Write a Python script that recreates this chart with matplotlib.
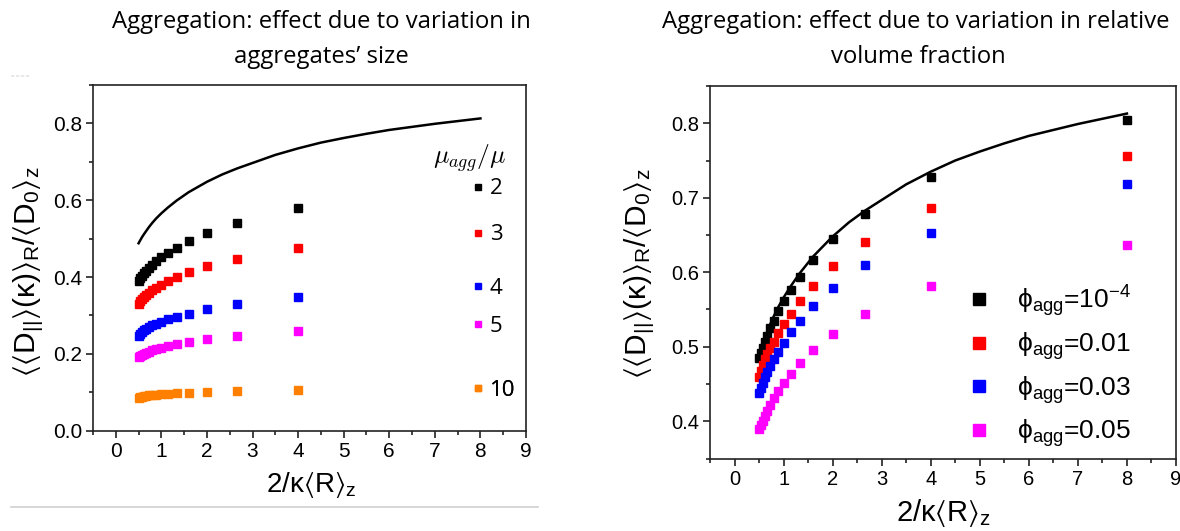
import matplotlib
matplotlib.use("Agg")
import matplotlib.pyplot as plt
from matplotlib.lines import Line2D
from matplotlib.ticker import MultipleLocator

plt.rcParams['font.family'] = ['Liberation Sans', 'DejaVu Sans']
plt.rcParams['mathtext.fontset'] = 'custom'
plt.rcParams['mathtext.rm'] = 'Liberation Sans'
plt.rcParams['mathtext.it'] = 'Liberation Sans'
plt.rcParams['mathtext.bf'] = 'Liberation Sans:bold'
plt.rcParams['mathtext.fallback'] = 'stixsans'

# ---------------- data ----------------
x_vals = [8.0, 4.0, 2.667, 2.0, 1.6, 1.333, 1.143, 1.0, 0.889, 0.8, 0.727, 0.667, 0.615, 0.571, 0.533, 0.5]

# theory curve
curve_x = [0.5, 0.533, 0.571, 0.615, 0.667, 0.727, 0.8, 0.889, 1.0, 1.143, 1.333, 1.6, 2.0, 2.333,
           2.667, 3.0, 3.5, 4.0, 4.5, 5.0, 5.5, 6.0, 6.5, 7.0, 7.5, 8.0]
curve_y = [0.488, 0.495, 0.503, 0.511, 0.520, 0.530, 0.541, 0.553, 0.566, 0.581, 0.599, 0.621, 0.648, 0.667,
           0.683, 0.697, 0.718, 0.735, 0.750, 0.762, 0.773, 0.783, 0.791, 0.799, 0.806, 0.813]

# left panel: aggregate size (mu_agg/mu); no point at x=8
left_x = x_vals[1:]
left_labels = ['2', '3', '4', '5', '10']
left_colors = ['#000000', '#ff0000', '#0000ff', '#ff00ff', '#ff8000']
mu2 = [0.580, 0.542, 0.515, 0.494, 0.475, 0.462, 0.451, 0.441, 0.432, 0.423, 0.416, 0.410, 0.404, 0.398, 0.390]
mu3 = [0.475, 0.448, 0.429, 0.413, 0.399, 0.389, 0.380, 0.372, 0.365, 0.358, 0.352, 0.347, 0.342, 0.337, 0.330]
mu4 = [0.349, 0.331, 0.317, 0.305, 0.297, 0.290, 0.284, 0.279, 0.274, 0.270, 0.265, 0.261, 0.257, 0.253, 0.247]
mu5 = [0.259, 0.247, 0.239, 0.232, 0.225, 0.220, 0.216, 0.212, 0.209, 0.206, 0.203, 0.200, 0.197, 0.195, 0.192]
mu10 = [0.106, 0.103, 0.1015, 0.099, 0.097, 0.096, 0.095, 0.094, 0.093, 0.092, 0.091, 0.090, 0.089, 0.088, 0.086]
left_series = [mu2, mu3, mu4, mu5, mu10]

# right panel: relative volume fraction
right_labels = ['\u03d5$_{\\mathrm{agg}}$=10$^{-4}$', '\u03d5$_{\\mathrm{agg}}$=0.01',
                '\u03d5$_{\\mathrm{agg}}$=0.03', '\u03d5$_{\\mathrm{agg}}$=0.05']
right_colors = ['#000000', '#ff0000', '#0000ff', '#ff00ff']
phi_1e4 = [0.804, 0.728, 0.678, 0.644, 0.617, 0.594, 0.576, 0.561, 0.548, 0.535, 0.525, 0.515, 0.506, 0.498, 0.492, 0.485]
phi_001 = [0.756, 0.686, 0.640, 0.608, 0.582, 0.562, 0.544, 0.530, 0.518, 0.507, 0.498, 0.490, 0.483, 0.476, 0.468, 0.460]
phi_003 = [0.719, 0.653, 0.610, 0.579, 0.555, 0.535, 0.520, 0.505, 0.493, 0.484, 0.474, 0.466, 0.459, 0.452, 0.445, 0.438]
phi_005 = [0.637, 0.581, 0.544, 0.517, 0.496, 0.478, 0.464, 0.451, 0.440, 0.431, 0.422, 0.414, 0.407, 0.401, 0.395, 0.390]
right_series = [phi_1e4, phi_001, phi_003, phi_005]

ylabel = r'$\langle\langle \mathrm{D}_{||}\rangle(\kappa)\rangle_\mathrm{R}/\langle \mathrm{D}_0\rangle_\mathrm{z}$'
xlabel = r'$2/\kappa\langle \mathrm{R}\rangle_\mathrm{z}$'

W, H = 1180, 531
fig = plt.figure(figsize=(W / 100, H / 100), dpi=100)


def style_axes(ax, tick_size):
    for s in ax.spines.values():
        s.set_linewidth(1.2)
        s.set_color('#222222')
    ax.tick_params(which='both', direction='out', top=False, right=False,
                   labelsize=tick_size, width=1.2, color='#222222', pad=3)
    ax.tick_params(which='major', length=5)
    ax.tick_params(which='minor', length=3)
    ax.xaxis.set_major_locator(MultipleLocator(1))
    ax.xaxis.set_minor_locator(MultipleLocator(0.5))
    ax.set_xlim(-0.5, 9)


# ---------------- left panel ----------------
axL = fig.add_axes([93 / W, 1 - 430.7 / H, 433 / W, 345.7 / H])
style_axes(axL, 15)
axL.plot(curve_x, curve_y, color='black', lw=1.8, zorder=3)
for ys, c in zip(left_series, left_colors):
    axL.plot(left_x, ys, ls='none', marker='s', ms=5.4, mfc=c, mec=c, zorder=4)
axL.set_ylim(0, 0.9)
axL.yaxis.set_major_locator(MultipleLocator(0.2))
axL.yaxis.set_minor_locator(MultipleLocator(0.1))
axL.set_xlabel(xlabel, fontsize=20)
axL.xaxis.set_label_coords((311 - 93) / 433, -(470 - 430.7) / 345.7)
axL.set_ylabel(ylabel, fontsize=21.5)
axL.yaxis.set_label_coords(-(93 - 46) / 433, (430.7 - 272) / 345.7)

# left legend: title + entries with irregular spacing
legL_y = [189, 235, 288, 326, 390]
t = fig.text(470 / W, 1 - 158 / H, r'$\mu_{agg}/\mu$', fontsize=18.5, ha='center', va='center')
t.set_math_fontfamily('cm')
for lab, c, yp in zip(left_labels, left_colors, legL_y):
    h = [Line2D([], [], ls='none', marker='s', ms=5, mfc=c, mec=c)]
    lg = axL.legend(h, [lab], loc='center left', bbox_to_anchor=(472 / W, 1 - yp / H),
                    bbox_transform=fig.transFigure, frameon=False, handlelength=0.55,
                    handletextpad=0.25, borderpad=0, borderaxespad=0,
                    prop={'family': 'Open Sans', 'size': 16})
    axL.add_artist(lg)

# ---------------- right panel ----------------
axR = fig.add_axes([710 / W, 1 - 458.5 / H, 466 / W, 372.5 / H])
style_axes(axR, 14.5)
axR.plot(curve_x, curve_y, color='black', lw=1.8, zorder=3)
for ys, c, lab in zip(right_series, right_colors, right_labels):
    axR.plot(x_vals, ys, ls='none', marker='s', ms=6.3, mfc=c, mec=c, zorder=4, label=lab)
axR.set_ylim(0.35, 0.85)
axR.yaxis.set_major_locator(MultipleLocator(0.1))
axR.yaxis.set_minor_locator(MultipleLocator(0.05))
axR.set_xlabel(xlabel, fontsize=21)
axR.xaxis.set_label_coords((943 - 710) / 466, -(497 - 458.5) / 372.5)
axR.set_ylabel(ylabel, fontsize=21.5)
axR.yaxis.set_label_coords(-(710 - 657) / 466, (458.5 - 274) / 372.5)
axR.legend(loc='center left', bbox_to_anchor=(968 / W, 1 - 366 / H), bbox_transform=fig.transFigure,
           frameon=False, fontsize=19, markerscale=1.27, handlelength=0.8, handletextpad=1.05,
           labelspacing=0.45, borderpad=0, borderaxespad=0)

# ---------------- titles ----------------
tf = {'family': 'Open Sans', 'size': 17.2, 'color': 'black'}
fig.text(321 / W, 1 - 22 / H, 'Aggregation: effect due to variation in', ha='center', va='center', fontdict=tf)
fig.text(321 / W, 1 - 57 / H, 'aggregates\u2019 size', ha='center', va='center', fontdict=tf)
fig.text(916 / W, 1 - 22 / H, 'Aggregation: effect due to variation in relative', ha='center', va='center', fontdict=tf)
fig.text(918 / W, 1 - 57 / H, 'volume fraction', ha='center', va='center', fontdict=tf)

# decorative separator lines from the slide
fig.add_artist(Line2D([11 / W, 538 / W], [1 - 507 / H, 1 - 507 / H], color='#d0d0d0', lw=1.2))
fig.add_artist(Line2D([11 / W, 30 / W], [1 - 76 / H, 1 - 76 / H], color='#e4e4e4', lw=1.2, ls=(0, (2, 1))))

fig.savefig('out.png', dpi=100)
